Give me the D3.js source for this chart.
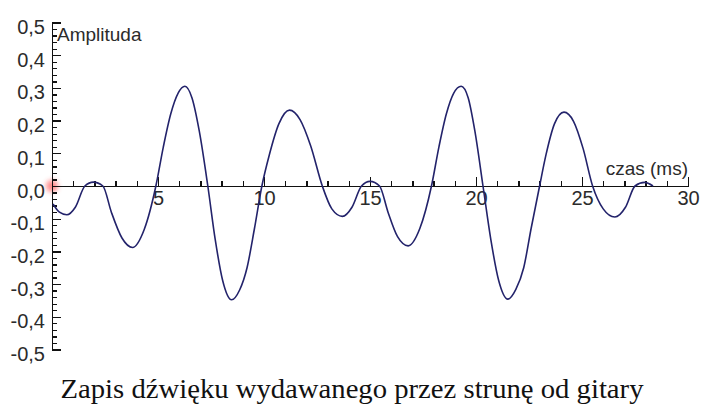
<!DOCTYPE html>
<html>
<head>
<meta charset="utf-8">
<script src="https://cdn.jsdelivr.net/npm/d3@7"></script>
<style>
  html, body { margin: 0; padding: 0; background: #fff; }
  svg { display: block; }
</style>
</head>
<body>
<svg id="chart" width="703" height="410"></svg>
<script>
const timeMs = [
  0.05, 0.35, 0.7, 1.1, 1.55, 1.95, 2.4, 2.8, 3.3, 3.8, 4.35, 4.9,
  5.25, 5.6, 5.95, 6.27, 6.6, 6.95, 7.35, 7.7, 8.05, 8.47, 8.85, 9.2, 9.55, 9.9,
  10.25, 10.7, 11.2, 11.7, 12.2, 12.75, 13.2, 13.7, 14.15, 14.6, 15.0, 15.45,
  15.85, 16.3, 16.8, 17.35, 17.9, 18.25, 18.6, 18.95, 19.3, 19.63, 19.95, 20.33,
  20.7, 21.07, 21.5, 21.88, 22.25, 22.6, 23.0, 23.3, 23.7, 24.15, 24.6, 25.05,
  25.5, 26.0, 26.55, 27.05, 27.5, 27.95, 28.35
];
const amplitude = [
  -0.055, -0.08, -0.088, -0.065, 0.0, 0.012, 0.0, -0.08, -0.159, -0.188, -0.133, 0.0,
  0.119, 0.22, 0.284, 0.305, 0.27, 0.167, 0.0, -0.164, -0.289, -0.348, -0.318, -0.25, -0.13, 0.0,
  0.095, 0.19, 0.232, 0.203, 0.123, 0.0, -0.07, -0.093, -0.065, 0.0, 0.014, 0.0,
  -0.08, -0.155, -0.183, -0.13, 0.0, 0.119, 0.22, 0.284, 0.305, 0.27, 0.167, 0.0,
  -0.164, -0.289, -0.346, -0.316, -0.25, -0.13, 0.0, 0.095, 0.19, 0.226, 0.198, 0.115,
  0.0, -0.07, -0.095, -0.065, 0.0, 0.011, 0.0
];

// Axis tick values
const xMajorTicks = [5, 10, 15, 20, 25, 30];
const xMinorTicks = d3.range(1, 31);
const yMajorTicks = [-0.5, -0.4, -0.3, -0.2, -0.1, 0.0, 0.1, 0.2, 0.3, 0.4, 0.5];
const yMinorTicks = d3.range(-50, 51, 2).map(d => d / 100);

const xTitle = 'czas (ms)';
const yTitle = 'Amplituda';
const caption = 'Zapis dźwięku wydawanego przez strunę od gitary';

const svg = d3.select('#chart');

const x = d3.scaleLinear().domain([0, 30]).range([52, 688]);
const y = d3.scaleLinear().domain([-0.5, 0.5]).range([349.5, 22.5]);

const labelFont = '"Liberation Sans", Arial, sans-serif';
const fmt = d => d3.format('.1f')(d).replace('.', ',').replace('−', '-');

// glow for the origin marker
const defs = svg.append('defs');
defs.append('filter')
  .attr('id', 'soft')
  .attr('x', '-100%').attr('y', '-100%')
  .attr('width', '300%').attr('height', '300%')
  .append('feGaussianBlur')
  .attr('stdDeviation', 2.5);

svg.append('circle')
  .attr('cx', x(0))
  .attr('cy', y(0))
  .attr('r', 6)
  .attr('fill', '#ff3c3c')
  .attr('opacity', 0.6)
  .attr('filter', 'url(#soft)');

// --- Y axis: line + ticks pointing right
svg.append('g')
  .attr('transform', `translate(${x(0)},0)`)
  .call(d3.axisRight(y).tickValues(yMinorTicks).tickSize(5).tickFormat(''));

svg.append('g')
  .attr('transform', `translate(${x(0)},0)`)
  .call(d3.axisRight(y).tickValues(yMajorTicks).tickSize(9).tickFormat(''));

// Y tick labels on the left
const yLabels = svg.append('g')
  .attr('transform', `translate(${x(0)},0)`)
  .call(d3.axisLeft(y).tickValues(yMajorTicks).tickSize(0).tickPadding(7).tickFormat(fmt));
yLabels.select('.domain').remove();
yLabels.selectAll('text')
  .attr('font-family', labelFont)
  .attr('font-size', 20)
  .attr('fill', '#2b2b2b')
  .attr('dy', '0.55em');

// --- X axis: line + ticks pointing up
svg.append('g')
  .attr('transform', `translate(0,${y(0)})`)
  .call(d3.axisTop(x).tickValues(xMinorTicks).tickSize(5).tickFormat(''));

svg.append('g')
  .attr('transform', `translate(0,${y(0)})`)
  .call(d3.axisTop(x).tickValues(xMajorTicks).tickSize(9).tickFormat(''));

const xLabels = svg.append('g')
  .attr('transform', `translate(0,${y(0)})`)
  .call(d3.axisBottom(x).tickValues(xMajorTicks).tickSize(0).tickPadding(5));
xLabels.select('.domain').remove();
xLabels.selectAll('text')
  .attr('font-family', labelFont)
  .attr('font-size', 20)
  .attr('fill', '#2b2b2b')
  .attr('dy', '0.72em');

// axis lines and ticks in black
svg.selectAll('.domain, .tick line')
  .attr('stroke', '#111')
  .attr('stroke-width', 1.3)
  .attr('shape-rendering', 'crispEdges');

// --- the waveform
const points = timeMs.map((t, i) => [t, amplitude[i]]);
const line = d3.line()
  .x(d => x(d[0]))
  .y(d => y(d[1]))
  .curve(d3.curveMonotoneX);

svg.append('path')
  .datum(points)
  .attr('d', line)
  .attr('fill', 'none')
  .attr('stroke', '#23236b')
  .attr('stroke-width', 1.6);

// axis titles
svg.append('text')
  .attr('x', x(0) + 5)
  .attr('y', 41)
  .attr('font-family', labelFont)
  .attr('font-size', 19)
  .attr('fill', '#2b2b2b')
  .text(yTitle);

svg.append('text')
  .attr('x', x(30))
  .attr('y', y(0) - 11)
  .attr('text-anchor', 'end')
  .attr('font-family', labelFont)
  .attr('font-size', 19)
  .attr('fill', '#2b2b2b')
  .text(xTitle);

// caption under the chart
svg.append('text')
  .attr('x', 352)
  .attr('y', 398)
  .attr('text-anchor', 'middle')
  .attr('font-family', '"Liberation Serif", "DejaVu Serif", serif')
  .attr('font-size', 28)
  .attr('fill', '#111')
  .attr('textLength', 583)
  .attr('lengthAdjust', 'spacingAndGlyphs')
  .text(caption);
</script>
</body>
</html>
